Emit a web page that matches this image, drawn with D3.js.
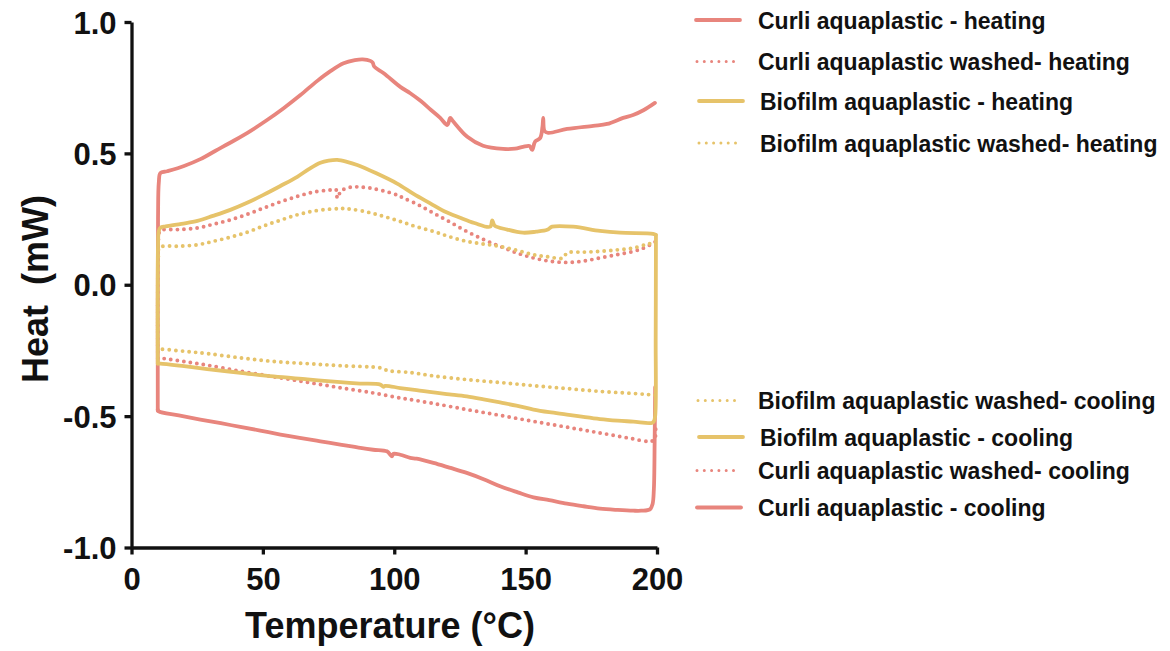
<!DOCTYPE html>
<html>
<head>
<meta charset="utf-8">
<script src="https://cdn.jsdelivr.net/npm/d3@7"></script>
<style>
	body { margin: 0; background: #fff; }
	svg { font-family: "Liberation Sans", Arial, Helvetica, sans-serif; font-weight: bold; }
</style>
</head>
<body>
<div id="chart"></div>
<script>
// DSC traces, [temperature °C, heat mW]
const curliHeating = [
	[10, -0.48], [10.1, 0.25], [10.4, 0.39], [11, 0.425], [13.6, 0.432], [20, 0.452], [26.2, 0.478],
	[32, 0.51], [38.9, 0.548], [45.2, 0.585], [51.6, 0.627], [57.9, 0.672], [64.3, 0.722], [70.6, 0.775],
	[75.7, 0.813], [80.7, 0.843], [85, 0.855], [88, 0.858], [90.9, 0.852], [91.8, 0.845], [92.4, 0.83],
	[96, 0.805], [102.3, 0.753], [106.1, 0.729], [110, 0.70], [114, 0.665], [117.5, 0.635], [120.2, 0.608],
	[121.3, 0.635], [122.4, 0.622], [127.8, 0.563], [133.8, 0.529], [141.4, 0.517], [146, 0.518],
	[149, 0.525], [151.5, 0.528], [152.5, 0.513], [153.6, 0.545], [155.5, 0.558], [156.4, 0.60],
	[156.7, 0.635], [157.2, 0.585], [158.6, 0.578], [165.8, 0.593], [175.7, 0.605], [181, 0.612],
	[187.1, 0.635], [190.9, 0.646], [195, 0.665], [199.2, 0.692],
]
const curliWashedHeating = [
	[10, -0.28], [10.2, 0.15], [10.6, 0.2], [11.7, 0.209], [18, 0.21], [25, 0.216], [31, 0.23],
	[37.6, 0.247], [44, 0.268], [50.3, 0.292], [56.5, 0.315], [63, 0.336], [69, 0.352], [75.7, 0.361],
	[77.8, 0.362], [78.2, 0.335], [78.8, 0.33], [79.5, 0.355], [83.3, 0.371], [87, 0.372], [90.9, 0.368],
	[96, 0.357], [101, 0.342], [103.5, 0.330], [109, 0.305], [114.9, 0.273], [121, 0.24], [127.6, 0.203],
	[134, 0.172], [140.3, 0.146], [147, 0.12], [153, 0.102], [159, 0.09], [165.7, 0.085], [172, 0.09],
	[178.3, 0.102], [185, 0.115], [191, 0.127], [195, 0.14], [198.5, 0.158], [199.5, 0.165],
]
const biofilmHeating = [
	[10, -0.30], [10.1, 0.15], [10.4, 0.205], [11, 0.217], [13, 0.222], [19, 0.232], [25.1, 0.243],
	[31, 0.262], [37.6, 0.285], [44, 0.312], [50.2, 0.342], [56.5, 0.375], [63.1, 0.411], [67.5, 0.44],
	[71.9, 0.464], [75, 0.472], [78.3, 0.475], [82, 0.468], [85.9, 0.456], [93, 0.425], [101.1, 0.385],
	[107.5, 0.345], [113.7, 0.31], [119, 0.28], [125.1, 0.255], [130.5, 0.235], [136.5, 0.221],
	[137.3, 0.245], [138.2, 0.225], [143, 0.21], [149, 0.198], [154, 0.202], [158.2, 0.209],
	[160.1, 0.221], [168.1, 0.221], [178.3, 0.205], [185.9, 0.198], [198.5, 0.194], [199.5, 0.19],
]
const biofilmWashedHeating = [
	[10, -0.245], [10.2, 0.1], [10.5, 0.14], [11.7, 0.146], [18, 0.147], [25, 0.152], [31, 0.165],
	[37.6, 0.181], [44, 0.2], [50.3, 0.224], [56.5, 0.245], [63, 0.266], [69, 0.28], [75.7, 0.288],
	[80, 0.29], [83.3, 0.288], [90, 0.276], [96, 0.26], [102.3, 0.241], [108, 0.222], [114.9, 0.203],
	[121, 0.183], [127.6, 0.165], [134, 0.155], [140.3, 0.146], [147, 0.13], [153, 0.114], [158, 0.107],
	[164.4, 0.102], [165.7, 0.121], [172, 0.124], [178.3, 0.127], [185, 0.133], [191, 0.14],
	[196.7, 0.155], [199.5, 0.16],
]
const biofilmWashedCooling = [
	[199.3, -0.42], [196.7, -0.418], [190, -0.413], [178.3, -0.406], [165.7, -0.395], [153, -0.384],
	[140.3, -0.372], [127.6, -0.361], [115, -0.347], [106.1, -0.334], [98, -0.328], [97.2, -0.326],
	[95, -0.317], [79.5, -0.308], [66.8, -0.30], [54.1, -0.292], [41.4, -0.278], [28.8, -0.262],
	[20, -0.253], [11, -0.245], [10, -0.245],
]
const biofilmCooling = [
	[199.6, 0.19], [199.5, -0.2], [199.3, -0.5], [198.8, -0.52], [198, -0.526], [191, -0.521],
	[185, -0.517], [178.3, -0.511], [172, -0.503], [165.7, -0.494], [159, -0.485], [153, -0.475],
	[146.5, -0.46], [140.3, -0.448], [134, -0.436], [127.6, -0.425], [121, -0.417], [114.9, -0.410],
	[108.5, -0.401], [102.3, -0.393], [96.5, -0.385], [95.9, -0.389], [94.7, -0.380], [87, -0.376],
	[79.5, -0.371], [67, -0.36], [54.1, -0.349], [41.5, -0.335], [28.8, -0.321], [20, -0.31],
	[11, -0.300], [10, -0.30],
]
const curliWashedCooling = [
	[199.5, -0.55], [199, -0.59], [196.7, -0.596], [190, -0.585], [178.3, -0.564], [165.7, -0.542],
	[153, -0.520], [140.3, -0.497], [127.6, -0.475], [115, -0.452], [106.1, -0.437], [102.3, -0.431],
	[92.1, -0.412], [79.5, -0.392], [66.8, -0.371], [54.1, -0.350], [41.4, -0.329], [28.8, -0.306],
	[20, -0.292], [12.3, -0.281], [10, -0.28],
]
const curliCooling = [
	[199.3, -0.39], [199.1, -0.6], [198.8, -0.78], [198.3, -0.835], [197.3, -0.855], [194, -0.86],
	[191, -0.86], [185, -0.857], [178.3, -0.852], [172, -0.843], [165.7, -0.833], [159, -0.82],
	[153, -0.809], [147, -0.79], [140.3, -0.767], [134, -0.74], [127.6, -0.716], [121, -0.696],
	[114.9, -0.678], [108.5, -0.662], [106.1, -0.659], [102.3, -0.647], [99.7, -0.643], [99.1, -0.653],
	[97.2, -0.634], [92, -0.628], [87.1, -0.621], [80, -0.609], [71.9, -0.596], [64, -0.583],
	[56.7, -0.570], [49, -0.555], [41.4, -0.541], [34, -0.527], [26.2, -0.513], [18, -0.497],
	[10.4, -0.482], [10, -0.475],
]

const xTicks = [0, 50, 100, 150, 200]
const yTicks = [-1.0, -0.5, 0.0, 0.5, 1.0]

const red = '#e8857d'
const yellow = '#e6c36a'

// legend rows, top group then bottom group
const series = [
	{ name: 'Curli aquaplastic - heating', data: curliHeating, color: red, dotted: false, ly: 20, lx: 696, tx: 758 },
	{ name: 'Curli aquaplastic washed- heating', data: curliWashedHeating, color: red, dotted: true, ly: 61.5, lx: 697, tx: 758 },
	{ name: 'Biofilm aquaplastic - heating', data: biofilmHeating, color: yellow, dotted: false, ly: 101, lx: 699, tx: 760 },
	{ name: 'Biofilm aquaplastic washed- heating', data: biofilmWashedHeating, color: yellow, dotted: true, ly: 143, lx: 699, tx: 760 },
	{ name: 'Biofilm aquaplastic washed- cooling', data: biofilmWashedCooling, color: yellow, dotted: true, ly: 400.5, lx: 698, tx: 758 },
	{ name: 'Biofilm aquaplastic - cooling', data: biofilmCooling, color: yellow, dotted: false, ly: 437, lx: 699, tx: 760 },
	{ name: 'Curli aquaplastic washed- cooling', data: curliWashedCooling, color: red, dotted: true, ly: 470.5, lx: 697, tx: 758 },
	{ name: 'Curli aquaplastic - cooling', data: curliCooling, color: red, dotted: false, ly: 507.5, lx: 697, tx: 758 },
]

const width = 1170
const height = 651

const x = d3.scaleLinear().domain([0, 200]).range([131.5, 657])
const y = d3.scaleLinear().domain([-1, 1]).range([547.5, 22])

const svg = d3.select('#chart')
	.append('svg')
	.attr('width', width)
	.attr('height', height)

// curves
const line = d3.line()
	.x(d => x(d[0]))
	.y(d => y(d[1]))
	.curve(d3.curveCatmullRom.alpha(0.5))

const drawOrder = [0, 7, 1, 6, 2, 5, 3, 4]
svg.append('g')
	.selectAll('path')
	.data(drawOrder.map(i => series[i]))
	.enter()
	.append('path')
	.attr('d', d => line(d.data))
	.attr('fill', 'none')
	.attr('stroke', d => d.color)
	.attr('stroke-width', d => d.dotted ? 3.9 : 3.8)
	.attr('stroke-linecap', 'round')
	.attr('stroke-linejoin', 'round')
	.attr('stroke-dasharray', d => d.dotted ? '0 6.6' : null)

// axes, hyphen instead of unicode minus
const fmt = d => d3.format('.1f')(d).replace('\u2212', '-')
const xAxis = svg.append('g')
	.attr('transform', `translate(0,${y(-1)})`)
	.call(d3.axisBottom(x).tickValues(xTicks).tickSize(7).tickSizeOuter(0).tickPadding(13))
const yAxis = svg.append('g')
	.attr('transform', `translate(${x(0)},0)`)
	.call(d3.axisLeft(y).tickValues(yTicks).tickFormat(fmt).tickSize(7).tickSizeOuter(0).tickPadding(8))

;[xAxis, yAxis].forEach(a => {
	a.select('.domain').attr('stroke', '#111').attr('stroke-width', 3.3)
	a.selectAll('.tick line').attr('stroke', '#111').attr('stroke-width', 3.3)
	a.selectAll('.tick text')
		.attr('fill', '#111')
		.style('font-size', '31px')
		.style('font-weight', 'bold')
		.style('font-family', '"Liberation Sans", Arial, sans-serif')
})
yAxis.selectAll('.tick text').attr('dy', '0.36em')

// axis titles
svg.append('text')
	.attr('x', 390)
	.attr('y', 638)
	.attr('text-anchor', 'middle')
	.attr('fill', '#111')
	.style('font-size', '36px')
	.text('Temperature (°C)')

svg.append('text')
	.attr('transform', 'translate(48,289) rotate(-90)')
	.attr('text-anchor', 'middle')
	.attr('fill', '#111')
	.style('font-size', '36px')
	.style('white-space', 'pre')
	.text('Heat  (mW)')

// legend
const legend = svg.append('g')
	.selectAll('g')
	.data(series)
	.enter()
	.append('g')

legend.append('line')
	.attr('x1', d => d.lx)
	.attr('x2', d => d.dotted ? d.lx + 38 : d.lx + 44)
	.attr('y1', d => d.ly)
	.attr('y2', d => d.ly)
	.attr('stroke', d => d.color)
	.attr('stroke-width', d => d.dotted ? 3 : 3.8)
	.attr('stroke-linecap', 'round')
	.attr('stroke-dasharray', d => d.dotted ? '0 7.3' : null)

legend.append('text')
	.attr('x', d => d.tx)
	.attr('y', d => d.ly + 8.5)
	.attr('fill', '#111')
	.style('font-size', '23px')
	.text(d => d.name)
</script>
</body>
</html>
